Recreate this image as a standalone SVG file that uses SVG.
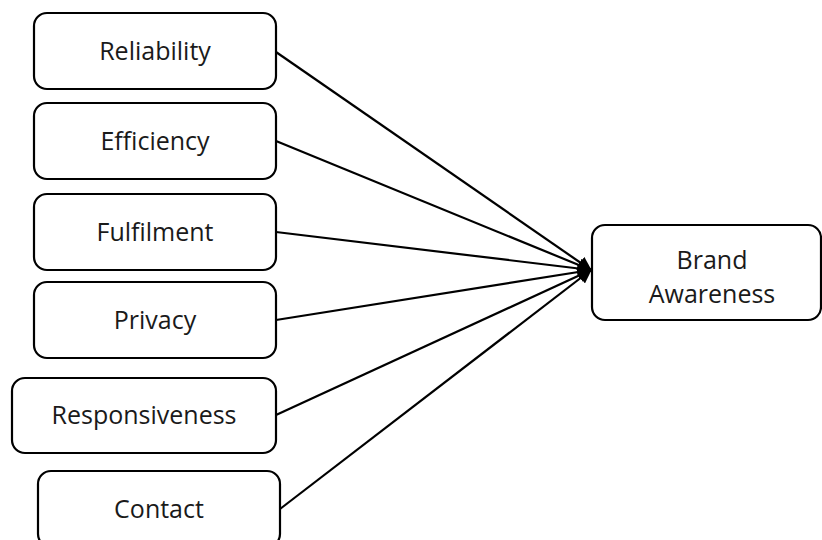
<svg xmlns="http://www.w3.org/2000/svg" width="822" height="540" viewBox="0 0 822 540">
<style>
.box{fill:#fff;stroke:#000;stroke-width:2.2}
.t{font-family:"Open Sans","Noto Sans",sans-serif;font-size:25px;fill:#1a1a1a;text-anchor:middle}
.c{stroke:#000;stroke-width:2.2;fill:none;marker-end:url(#ah)}
</style>
<defs>
<marker id="ah" markerUnits="userSpaceOnUse" markerWidth="14" markerHeight="14" viewBox="0 0 14 14" refX="13" refY="7" orient="auto">
<path d="M0,0 L14,7 L0,14 z" fill="#000"/>
</marker>
</defs>
<rect width="822" height="540" fill="#fff"/>
<g id="connectors">
<line class="c" x1="276" y1="52" x2="591" y2="270"/>
<line class="c" x1="276" y1="141" x2="591" y2="270"/>
<line class="c" x1="276" y1="232" x2="591" y2="270"/>
<line class="c" x1="276" y1="320" x2="591" y2="270"/>
<line class="c" x1="276" y1="415" x2="591" y2="270"/>
<line class="c" x1="280" y1="509" x2="591" y2="270"/>
</g>
<g id="reliability"><rect class="box" x="34" y="13" width="242" height="76" rx="13"/><text class="t" x="155" y="60">Reliability</text></g>
<g id="efficiency"><rect class="box" x="34" y="103" width="242" height="76" rx="13"/><text class="t" x="155" y="150">Efficiency</text></g>
<g id="fulfilment"><rect class="box" x="34" y="194" width="242" height="76" rx="13"/><text class="t" x="155" y="241">Fulfilment</text></g>
<g id="privacy"><rect class="box" x="34" y="282" width="242" height="76" rx="13"/><text class="t" x="155" y="329">Privacy</text></g>
<g id="responsiveness"><rect class="box" x="12" y="378" width="264" height="75" rx="13"/><text class="t" x="144" y="424">Responsiveness</text></g>
<g id="contact"><rect class="box" x="38" y="471" width="242" height="76" rx="13"/><text class="t" x="159" y="518">Contact</text></g>
<g id="brand-awareness"><rect class="box" x="592" y="225" width="229" height="95" rx="13"/><text class="t" x="712" y="269">Brand</text><text class="t" x="712" y="303">Awareness</text></g>
</svg>
